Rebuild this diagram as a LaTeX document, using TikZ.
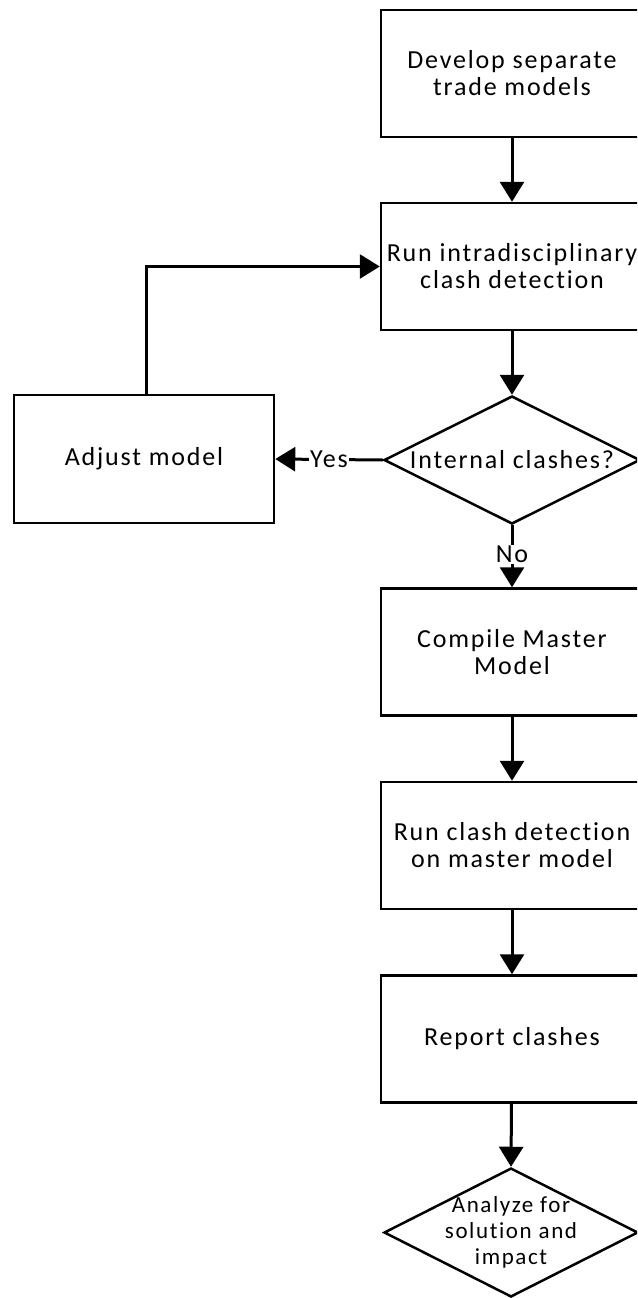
\documentclass[tikz,border=0pt]{standalone}
\usepackage{fontspec}
\setmainfont{Carlito}[LetterSpace=7, Ligatures=NoCommon]
\usetikzlibrary{shapes.geometric,arrows.meta}

\tikzset{
  stepbox/.style={draw, line width=2.5pt, minimum width=262pt, minimum height=127pt,
    inner sep=0pt, align=center, font=\fontsize{26}{27}\selectfont},
  decision/.style={draw, diamond, line width=2.5pt, minimum width=256pt, minimum height=128pt,
    inner sep=0pt},
  dectext/.style={align=center, inner sep=0pt, font=\fontsize{26}{27}\selectfont},
  smalltext/.style={align=center, inner sep=0pt, font=\fontsize{23}{26}\selectfont},
  flow/.style={line width=3pt, -{Triangle[length=20pt,width=24pt]}},
  lbl/.style={fill=white, inner sep=1pt, font=\fontsize{26}{27}\selectfont}
}

\begin{document}
\begin{tikzpicture}[x=1pt,y=-1pt]
  \useasboundingbox (0,0) rectangle (637,1298);
  \clip (0,0) rectangle (637,1298);
  \fill[white] (0,0) rectangle (637,1298);

  % main column of process steps
  \node[stepbox] (develop) at (512,73.5) {Develop separate\\trade models};
  \node[stepbox] (intra) at (512,266.5) {Run intradisciplinary\\clash detection};
  \node[decision] (internal) at (512,460) {};
  \node[dectext] (internaltxt) at (internal.center) {Internal clashes?};
  \node[stepbox, minimum width=260pt, minimum height=128pt] (adjust) at (144,459) {Adjust model};
  \node[stepbox] (compile) at (512,652) {Compile Master\\Model};
  \node[stepbox] (master) at (512,845.5) {Run clash detection\\on master model};
  \node[stepbox] (report) at (512,1039) {Report clashes};
  \node[decision, minimum width=254pt, minimum height=129pt] (analyze) at (511,1232.5) {};
  \node[smalltext] (analyzetxt) at (analyze.center) {Analyze for\\solution and\\impact};

  % connectors
  \draw[flow] (develop) -- (intra);
  \draw[flow] (intra) -- (internal);
  \draw[flow] (internal.west) -- node[lbl, pos=0.5] {Yes} (adjust.east);
  \draw[flow] (adjust.north -| 146,0) |- (intra.west);
  \draw[flow] (internal.south) -- node[lbl, pos=0.47] {No} (compile.north);
  \draw[flow] (compile) -- (master);
  \draw[flow] (master) -- (report);
  \draw[flow] (report) -- (analyze.north);
\end{tikzpicture}
\end{document}
